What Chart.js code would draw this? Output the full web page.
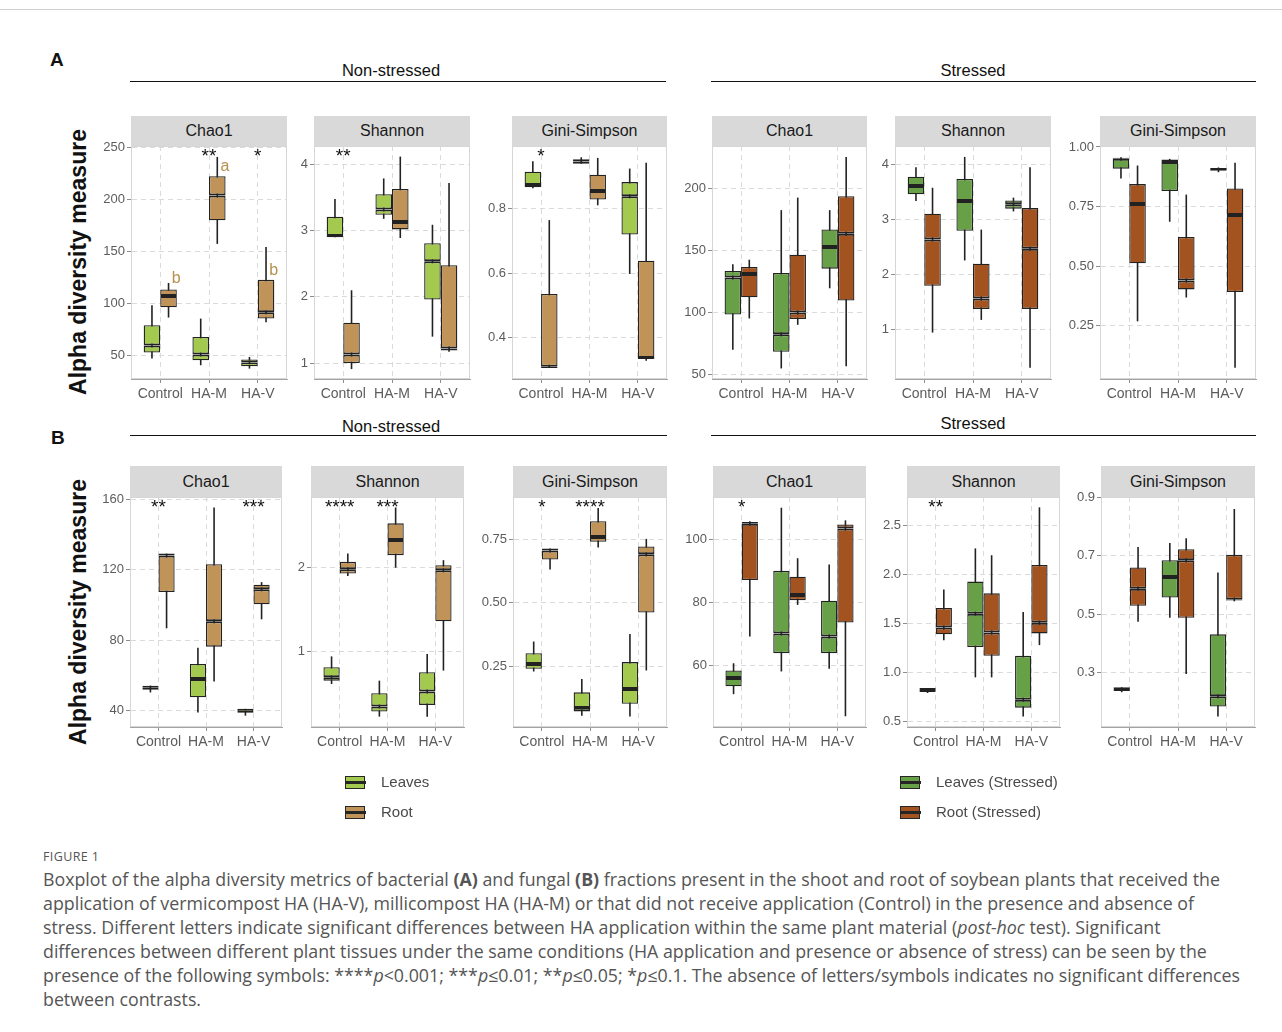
<!DOCTYPE html>
<html>
<head>
<meta charset="utf-8">
<title>Alpha diversity boxplots</title>
<script src="https://cdn.jsdelivr.net/npm/chart.js@4.4.1/dist/chart.umd.min.js"></script>
<style>
  body { margin:0; background:#fff; width:1282px; height:1032px; position:relative; overflow:hidden;
         font-family:"Liberation Sans", Arial, sans-serif; }
  canvas { position:absolute; }
  .strip { position:absolute; background:#d9d9d9; color:#1a1a1a; font-size:16px; display:flex;
           align-items:center; justify-content:center; }
  .ctr { position:absolute; transform:translate(-50%,-50%); white-space:nowrap; }
  .hdr { font-size:16.5px; color:#111; }
  .rule { position:absolute; height:1.4px; background:#111; }
  .tag { position:absolute; font-weight:bold; font-size:19px; color:#111; }
  .ytitle { position:absolute; font-weight:bold; font-size:23px; color:#111; white-space:nowrap;
            transform:translate(-50%,-50%) rotate(-90deg); }
  .leg { position:absolute; font-size:15px; color:#4a4a4a; white-space:nowrap; }
  .key { position:absolute; width:22px; height:18px; }
  .key .bx { position:absolute; left:1px; top:3px; width:18px; height:11px; border:1.3px solid #262626; }
  .key .md { position:absolute; left:1px; top:8px; width:21px; height:2.6px; background:#262626; }
  .cap { position:absolute; left:43px; font-family:"Open Sans", "Noto Sans", sans-serif; font-size:17.8px;
         color:#555; white-space:nowrap; line-height:24px; }
  .fig { position:absolute; left:43px; font-family:"Open Sans", "Noto Sans", sans-serif; font-size:12.5px;
         color:#555; letter-spacing:0.4px; }
</style>
</head>
<body>
<script>
// ---- categories and five-number summaries: [min, Q1, median, Q3, max] ----
const categories = ['Control', 'HA-M', 'HA-V'];

// Bacterial fraction, non-stressed
const bacChao1Leaves   = [[47.4, 53.2, 60.0, 79.4, 98.6], [41.0, 45.8, 51.3, 68.2, 85.8], [37.8, 40.1, 43.6, 46.5, 49.0]];
const bacChao1Root     = [[86.8, 96.7, 107.6, 113.7, 120.0], [157.5, 180.2, 203.9, 222.5, 241.0], [82.3, 85.8, 91.9, 123.0, 154.6]];
const bacShannonLeaves = [[2.90, 2.90, 2.92, 3.21, 3.48], [3.18, 3.24, 3.32, 3.55, 3.79], [1.40, 1.96, 2.54, 2.81, 3.09]];
const bacShannonRoot   = [[0.91, 1.00, 1.13, 1.61, 2.10], [2.89, 3.02, 3.13, 3.63, 4.12], [1.17, 1.19, 1.22, 2.48, 3.72]];
const bacGiniLeaves    = [[0.864, 0.867, 0.874, 0.915, 0.948], [0.940, 0.940, 0.947, 0.954, 0.960], [0.598, 0.720, 0.839, 0.883, 0.925]];
const bacGiniRoot      = [[0.306, 0.306, 0.310, 0.536, 0.765], [0.811, 0.829, 0.855, 0.906, 0.958], [0.329, 0.334, 0.337, 0.639, 0.943]];

// Bacterial fraction, stressed
const bacChao1LeavesS   = [[70.0, 98.4, 128.1, 133.4, 138.8], [55.0, 68.4, 82.6, 131.8, 182.4], [119.5, 135.3, 152.7, 166.8, 182.4]];
const bacChao1RootS     = [[95.2, 112.3, 131.0, 136.6, 142.5], [90.1, 94.7, 100.0, 146.5, 192.5], [56.7, 109.6, 163.4, 193.6, 225.1]];
const bacShannonLeavesS = [[3.34, 3.46, 3.61, 3.78, 3.95], [2.26, 2.80, 3.34, 3.74, 4.14], [3.15, 3.20, 3.28, 3.35, 3.40]];
const bacShannonRootS   = [[0.95, 1.80, 2.64, 3.11, 3.58], [1.18, 1.38, 1.57, 2.20, 2.82], [0.31, 1.38, 2.47, 3.21, 3.95]];
const bacGiniLeavesS    = [[0.868, 0.909, 0.950, 0.955, 0.957], [0.686, 0.815, 0.937, 0.947, 0.950], [0.894, 0.900, 0.907, 0.912, 0.914]];
const bacGiniRootS      = [[0.268, 0.512, 0.761, 0.844, 0.922], [0.368, 0.402, 0.439, 0.622, 0.800], [0.073, 0.391, 0.714, 0.826, 0.934]];

// Fungal fraction, non-stressed
const funChao1Leaves   = [[50.4, 51.9, 53.0, 54.2, 54.3], [39.0, 47.7, 58.1, 66.6, 75.8], [37.2, 38.7, 39.2, 41.1, 41.1]];
const funChao1Root     = [[86.8, 107.4, 128.1, 129.2, 129.2], [56.6, 76.4, 90.8, 123.2, 155.3], [91.9, 100.4, 108.9, 111.5, 113.0]];
const funShannonLeaves = [[0.61, 0.65, 0.69, 0.81, 0.94], [0.22, 0.28, 0.34, 0.50, 0.65], [0.22, 0.36, 0.52, 0.75, 0.97]];
const funShannonRoot   = [[1.90, 1.93, 1.98, 2.07, 2.17], [2.00, 2.15, 2.33, 2.53, 2.72], [0.77, 1.36, 1.97, 2.03, 2.09]];
const funGiniLeaves    = [[0.229, 0.240, 0.259, 0.301, 0.347], [0.055, 0.072, 0.085, 0.147, 0.199], [0.052, 0.102, 0.160, 0.266, 0.377]];
const funGiniRoot      = [[0.631, 0.670, 0.705, 0.713, 0.713], [0.717, 0.740, 0.759, 0.821, 0.873], [0.233, 0.461, 0.691, 0.721, 0.751]];

// Fungal fraction, stressed
const funChao1LeavesS   = [[50.9, 53.4, 56.0, 58.4, 60.7], [58.1, 63.9, 70.1, 90.0, 110.0], [59.0, 63.9, 69.2, 80.5, 92.0]];
const funChao1RootS     = [[69.2, 87.1, 104.9, 105.5, 105.7], [79.2, 80.7, 82.3, 88.1, 94.0], [43.9, 73.6, 103.4, 104.7, 106.0]];
const funShannonLeavesS = [[0.79, 0.80, 0.82, 0.84, 0.84], [0.95, 1.26, 1.60, 1.93, 2.27], [0.55, 0.64, 0.72, 1.17, 1.62]];
const funShannonRootS   = [[1.33, 1.39, 1.46, 1.66, 1.85], [0.95, 1.17, 1.41, 1.81, 2.20], [1.28, 1.40, 1.51, 2.10, 2.69]];
const funGiniLeavesS    = [[0.233, 0.237, 0.244, 0.250, 0.250], [0.488, 0.557, 0.627, 0.685, 0.744], [0.150, 0.184, 0.219, 0.431, 0.643]];
const funGiniRootS      = [[0.474, 0.529, 0.587, 0.660, 0.730], [0.295, 0.488, 0.685, 0.722, 0.760], [0.544, 0.547, 0.549, 0.703, 0.860]];

// ---- tick labels ----
const ticksBacChao1     = ['50', '100', '150', '200', '250'];
const ticksShannon4     = ['1', '2', '3', '4'];
const ticksBacGini      = ['0.4', '0.6', '0.8'];
const ticksBacChao1S    = ['50', '100', '150', '200'];
const ticksBacGiniS     = ['0.25', '0.50', '0.75', '1.00'];
const ticksFunChao1     = ['40', '80', '120', '160'];
const ticksFunShannon   = ['1', '2'];
const ticksFunGini      = ['0.25', '0.50', '0.75'];
const ticksFunChao1S    = ['60', '80', '100'];
const ticksFunShannonS  = ['0.5', '1.0', '1.5', '2.0', '2.5'];
const ticksFunGiniS     = ['0.3', '0.5', '0.7', '0.9'];

// ---- significance marks (category, symbols) and post-hoc letters (category, letter, value) ----
const starsBacChao1    = [['HA-M', '**'], ['HA-V', '*']];
const starsBacShannon  = [['Control', '**']];
const starsBacGini     = [['Control', '*']];
const lettersBacChao1  = [['Control', 'b', 124.6], ['HA-M', 'a', 231.4], ['HA-V', 'b', 131.6]];
const starsFunChao1    = [['Control', '**'], ['HA-V', '***']];
const starsFunShannon  = [['Control', '****'], ['HA-M', '***']];
const starsFunGini     = [['Control', '*'], ['HA-M', '****']];
const starsFunChao1S   = [['Control', '*']];
const starsFunShannonS = [['Control', '**']];

// ---- styling ----
const colors = { leaves: '#a3c94f', root: '#c09459', leavesS: '#67a046', rootS: '#a3531f' };
const ink = '#222222';
const tickFont = { family: '"Liberation Sans", Arial, sans-serif', size: 13 };

Chart.defaults.font.family = '"Liberation Sans", Arial, sans-serif';
Chart.defaults.animation = false;

// panel frame, significance symbols and letters, placed through the chart scales
const panelMarks = {
  id: 'panelMarks',
  beforeDatasetsDraw(chart) {
    const { ctx, chartArea: a } = chart;
    ctx.save();
    ctx.strokeStyle = '#d6d6d6';
    ctx.lineWidth = 1;
    ctx.strokeRect(a.left + 0.5, a.top + 0.5, a.width - 1, a.height - 1);
    ctx.restore();
  },
  afterDatasetsDraw(chart, args, opts) {
    const { ctx, chartArea: a, scales: { x, y } } = chart;
    ctx.save();
    ctx.textAlign = 'center';
    ctx.fillStyle = '#111';
    ctx.font = '19px "Liberation Sans", Arial, sans-serif';
    ctx.textBaseline = 'alphabetic';
    (opts.stars || []).forEach(([cat, sym]) => {
      ctx.fillText(sym, x.getPixelForValue(categories.indexOf(cat)), a.top + 16);
    });
    ctx.fillStyle = '#b8904c';
    ctx.font = '16px "Liberation Sans", Arial, sans-serif';
    ctx.textBaseline = 'middle';
    (opts.letters || []).forEach(([cat, letter, v]) => {
      ctx.fillText(letter, x.getPixelForValue(categories.indexOf(cat)) + 16, y.getPixelForValue(v));
    });
    ctx.restore();
  }
};

// each box is two floating bars (Q1-median, median-Q3) whose shared edge forms the median line,
// plus a hairline floating bar from min to max for the whisker
function boxDatasets(leaves, root, colLeaf, colRoot) {
  const pts = (arr, a, b) => arr.map((s, i) => ({ x: i, y: [s[a], s[b]] }));
  const edge = 1.3, mid = 2.0;
  const half = (arr, col, stack, lower) => ({
    data: pts(arr, lower ? 1 : 2, lower ? 2 : 3),
    backgroundColor: col,
    borderColor: ink,
    borderWidth: lower ? { top: mid, bottom: edge, left: edge, right: edge }
                       : { top: edge, bottom: mid, left: edge, right: edge },
    borderSkipped: false,
    inflateAmount: 0,
    stack
  });
  const whisker = (arr, stack) => ({
    data: pts(arr, 0, 4),
    backgroundColor: ink,
    borderWidth: 0,
    maxBarThickness: 1.6,
    inflateAmount: 0,
    stack
  });
  return [
    half(leaves, colLeaf, 'leaves', true), half(leaves, colLeaf, 'leaves', false),
    half(root, colRoot, 'root', true), half(root, colRoot, 'root', false),
    whisker(leaves, 'leaves'), whisker(root, 'root')
  ];
}

const rowA = { top: 146, bottom: 379, strip: 30 };
const rowB = { top: 497, bottom: 727, strip: 31 };

const panels = [
  { row: rowA, x: [131, 287], title: 'Chao1', leaves: bacChao1Leaves, root: bacChao1Root, stressed: false,
    yr: [27.8, 251.5], ticks: ticksBacChao1, stars: starsBacChao1, letters: lettersBacChao1 },
  { row: rowA, x: [314, 470], title: 'Shannon', leaves: bacShannonLeaves, root: bacShannonRoot, stressed: false,
    yr: [0.76, 4.28], ticks: ticksShannon4, stars: starsBacShannon },
  { row: rowA, x: [512, 667], title: 'Gini-Simpson', leaves: bacGiniLeaves, root: bacGiniRoot, stressed: false,
    yr: [0.272, 0.995], ticks: ticksBacGini, stars: starsBacGini },
  { row: rowA, x: [712, 867], title: 'Chao1', leaves: bacChao1LeavesS, root: bacChao1RootS, stressed: true,
    yr: [46.5, 234], ticks: ticksBacChao1S },
  { row: rowA, x: [895, 1051], title: 'Shannon', leaves: bacShannonLeavesS, root: bacShannonRootS, stressed: true,
    yr: [0.107, 4.338], ticks: ticksShannon4 },
  { row: rowA, x: [1100, 1256], title: 'Gini-Simpson', leaves: bacGiniLeavesS, root: bacGiniRootS, stressed: true,
    yr: [0.026, 1.004], ticks: ticksBacGiniS },

  { row: rowB, x: [130, 282], title: 'Chao1', leaves: funChao1Leaves, root: funChao1Root, stressed: false,
    yr: [30.8, 161.3], ticks: ticksFunChao1, stars: starsFunChao1 },
  { row: rowB, x: [311, 464], title: 'Shannon', leaves: funShannonLeaves, root: funShannonRoot, stressed: false,
    yr: [0.096, 2.845], ticks: ticksFunShannon, stars: starsFunShannon },
  { row: rowB, x: [513, 667], title: 'Gini-Simpson', leaves: funGiniLeaves, root: funGiniRoot, stressed: false,
    yr: [0.0105, 0.916], ticks: ticksFunGini, stars: starsFunGini },
  { row: rowB, x: [713, 866], title: 'Chao1', leaves: funChao1LeavesS, root: funChao1RootS, stressed: true,
    yr: [40.5, 113.4], ticks: ticksFunChao1S, stars: starsFunChao1S },
  { row: rowB, x: [907, 1060], title: 'Shannon', leaves: funShannonLeavesS, root: funShannonRootS, stressed: true,
    yr: [0.442, 2.796], ticks: ticksFunShannonS, stars: starsFunShannonS },
  { row: rowB, x: [1101, 1255], title: 'Gini-Simpson', leaves: funGiniLeavesS, root: funGiniRootS, stressed: true,
    yr: [0.114, 0.901], ticks: ticksFunGiniS }
];

const PAD_TOP = 12, Y_W = 46, X_H = 30, PAD_R = 6;

function addPanel(p) {
  const w = p.x[1] - p.x[0], h = p.row.bottom - p.row.top;

  const strip = document.createElement('div');
  strip.className = 'strip';
  strip.textContent = p.title;
  Object.assign(strip.style, { left: p.x[0] + 'px', top: (p.row.top - p.row.strip) + 'px',
                               width: w + 'px', height: p.row.strip + 'px' });
  document.body.appendChild(strip);

  const cv = document.createElement('canvas');
  cv.width = w + Y_W + PAD_R;
  cv.height = h + PAD_TOP + X_H;
  cv.style.left = (p.x[0] - Y_W) + 'px';
  cv.style.top = (p.row.top - PAD_TOP) + 'px';
  document.body.appendChild(cv);

  const tickVals = p.ticks.map(Number);
  const grid = { color: '#dadada', lineWidth: 1, drawTicks: true, tickLength: 4, tickColor: '#8c8c8c', tickWidth: 1 };
  const border = { display: true, color: '#a3a3a3', width: 1, dash: [5, 4] };

  new Chart(cv, {
    type: 'bar',
    data: { datasets: boxDatasets(p.leaves, p.root,
                                  p.stressed ? colors.leavesS : colors.leaves,
                                  p.stressed ? colors.rootS : colors.root) },
    options: {
      responsive: false,
      events: [],
      categoryPercentage: 0.68,
      barPercentage: 1,
      layout: { padding: { top: PAD_TOP, right: PAD_R, left: 0, bottom: 0 } },
      plugins: { legend: { display: false }, tooltip: { enabled: false },
                 panelMarks: { stars: p.stars, letters: p.letters } },
      scales: {
        x: {
          type: 'linear', min: -0.6, max: 2.6, stacked: true, offset: false,
          afterBuildTicks: s => { s.ticks = categories.map((c, i) => ({ value: i })); },
          afterFit: s => { s.height = X_H; },
          ticks: { callback: v => categories[v], autoSkip: false, maxRotation: 0, minRotation: 0,
                   color: '#5c5c5c', font: { ...tickFont, size: 14 }, padding: 3 },
          grid: { ...grid, offset: false }, border
        },
        y: {
          type: 'linear', min: p.yr[0], max: p.yr[1], stacked: false,
          afterBuildTicks: s => { s.ticks = tickVals.map(v => ({ value: v })); },
          afterFit: s => { s.width = Y_W; },
          ticks: { callback: (v, i) => p.ticks[i], color: '#5c5c5c', font: tickFont, padding: 2 },
          grid, border
        }
      }
    },
    plugins: [panelMarks]
  });
}

function addText(cls, txt, cx, cy) {
  const d = document.createElement('div');
  d.className = cls;
  d.innerHTML = txt;
  d.style.left = cx + 'px';
  d.style.top = cy + 'px';
  document.body.appendChild(d);
  return d;
}
function addRule(x0, x1, y) {
  const d = document.createElement('div');
  d.className = 'rule';
  Object.assign(d.style, { left: x0 + 'px', width: (x1 - x0) + 'px', top: y + 'px' });
  document.body.appendChild(d);
}
function addKey(x, y, col, label) {
  const k = document.createElement('div');
  k.className = 'key';
  k.style.left = x + 'px'; k.style.top = y + 'px';
  k.innerHTML = '<div class="bx" style="background:' + col + '"></div><div class="md"></div>';
  document.body.appendChild(k);
  const t = document.createElement('div');
  t.className = 'leg';
  t.textContent = label;
  t.style.left = (x + 37) + 'px';
  t.style.top = y + 'px';
  document.body.appendChild(t);
}

// frame line across the top
const topLine = document.createElement('div');
Object.assign(topLine.style, { position: 'absolute', left: '0px', top: '9px', width: '1282px', height: '1px', background: '#cfcfcf' });
document.body.appendChild(topLine);

// panel letters, section headers and axis titles
addText('tag', 'A', 50, 49);
addText('tag', 'B', 51, 427);

addText('ctr hdr', 'Non-stressed', 391, 70);
addText('ctr hdr', 'Stressed', 973, 70);
addRule(130, 666, 81);
addRule(711, 1256, 81);
addText('ctr hdr', 'Non-stressed', 391, 426);
addText('ctr hdr', 'Stressed', 973, 423);
addRule(130, 667, 435);
addRule(711, 1256, 435);

addText('ytitle', 'Alpha diversity measure', 78, 262);
addText('ytitle', 'Alpha diversity measure', 78, 612);

panels.forEach(addPanel);

// legends
addKey(344, 773, colors.leaves, 'Leaves');
addKey(344, 803, colors.root, 'Root');
addKey(899, 773, colors.leavesS, 'Leaves (Stressed)');
addKey(899, 803, colors.rootS, 'Root (Stressed)');

// caption
const fig = document.createElement('div');
fig.className = 'fig';
fig.textContent = 'FIGURE 1';
fig.style.top = '848px';
document.body.appendChild(fig);

const captionLines = [
  'Boxplot of the alpha diversity metrics of bacterial <b>(A)</b> and fungal <b>(B)</b> fractions present in the shoot and root of soybean plants that received the',
  'application of vermicompost HA (HA-V), millicompost HA (HA-M) or that did not receive application (Control) in the presence and absence of',
  'stress. Different letters indicate significant differences between HA application within the same plant material (<i>post-hoc</i> test). Significant',
  'differences between different plant tissues under the same conditions (HA application and presence or absence of stress) can be seen by the',
  'presence of the following symbols: ****<i>p</i>&lt;0.001; ***<i>p</i>≤0.01; **<i>p</i>≤0.05; *<i>p</i>≤0.1. The absence of letters/symbols indicates no significant differences',
  'between contrasts.'
];
captionLines.forEach((ln, i) => {
  const d = document.createElement('div');
  d.className = 'cap';
  d.innerHTML = ln;
  d.style.top = (867 + i * 24) + 'px';
  document.body.appendChild(d);
});
</script>
</body>
</html>
